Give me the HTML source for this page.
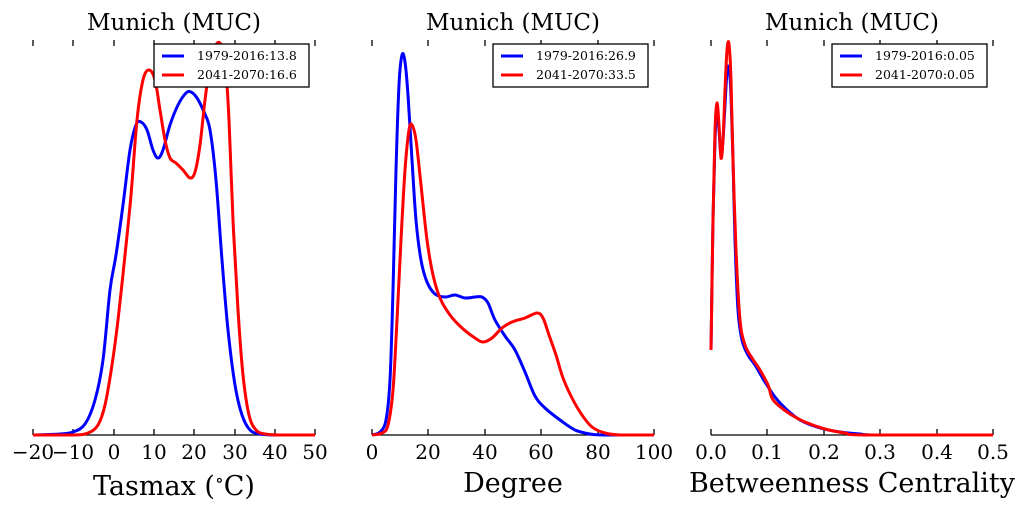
<!DOCTYPE html><html><head><style>body{margin:0;background:#fff}svg{font-family:"DejaVu Serif","Liberation Serif",serif}</style></head><body>
<svg id="s" width="1024" height="512" viewBox="0 0 1024 512" xmlns="http://www.w3.org/2000/svg">
<g font-size="23" text-anchor="middle" fill="#000">
<text x="174" y="30">Munich (MUC)</text><text x="513" y="30">Munich (MUC)</text><text x="852" y="30">Munich (MUC)</text>
</g>
<g stroke="#000" stroke-width="1.3">
<line x1="33" y1="435" x2="315" y2="435"/><line x1="372" y1="435" x2="654" y2="435"/><line x1="711" y1="435" x2="993" y2="435"/>
<path d="M33 40v6M73 40v6M114 40v6M154 40v6M194 40v6M235 40v6M275 40v6M315 40v6M33 435v-6M73 435v-6M114 435v-6M154 435v-6M194 435v-6M235 435v-6M275 435v-6M315 435v-6"/>
<path d="M372 40v6M428 40v6M485 40v6M541 40v6M598 40v6M654 40v6M372 435v-6M428 435v-6M485 435v-6M541 435v-6M598 435v-6M654 435v-6"/>
<path d="M711 40v6M767 40v6M824 40v6M880 40v6M937 40v6M993 40v6M711 435v-6M767 435v-6M824 435v-6M880 435v-6M937 435v-6M993 435v-6"/>
</g>
<g font-size="20" text-anchor="middle">
<text x="33" y="459">−20</text><text x="73" y="459">−10</text><text x="114" y="459">0</text><text x="154" y="459">10</text><text x="194" y="459">20</text><text x="235" y="459">30</text><text x="275" y="459">40</text><text x="315" y="459">50</text>
<text x="372" y="459">0</text><text x="428" y="459">20</text><text x="485" y="459">40</text><text x="541" y="459">60</text><text x="598" y="459">80</text><text x="654" y="459">100</text>
<text x="711" y="459">0.0</text><text x="767" y="459">0.1</text><text x="824" y="459">0.2</text><text x="880" y="459">0.3</text><text x="937" y="459">0.4</text><text x="993" y="459">0.5</text>
</g>
<g font-size="27" text-anchor="middle">
<text x="174" y="495">Tasmax (<tspan font-size="18" dy="-9">∘</tspan><tspan dy="9">C)</tspan></text>
<text x="513" y="492">Degree</text><text x="852" y="492">Betweenness Centrality</text>
</g>
<g id="curves" fill="none" stroke-width="3" stroke-linejoin="round"></g>
<g>
<rect x="154" y="44" width="155" height="43" fill="#fff" stroke="#000" stroke-width="1.3"/>
<rect x="493" y="44" width="155" height="43" fill="#fff" stroke="#000" stroke-width="1.3"/>
<rect x="832" y="44" width="155" height="43" fill="#fff" stroke="#000" stroke-width="1.3"/>
<g stroke-width="3"><path stroke="#00f" d="M162 56h22M501 56h22M840 56h22"/><path stroke="#f00" d="M162 75h22M501 75h22M840 75h22"/></g>
<g font-size="12.5">
<text x="197" y="60">1979-2016:13.8</text><text x="197" y="79">2041-2070:16.6</text>
<text x="536" y="60">1979-2016:26.9</text><text x="536" y="79">2041-2070:33.5</text>
<text x="875" y="60">1979-2016:0.05</text><text x="875" y="79">2041-2070:0.05</text>
</g></g>
</svg>
<script>
var S=[
["#00f",[[33,435],[60,434],[73,432],[85,424],[95,400],[103,360],[110,290],[116,255],[123,205],[130,150],[136,125],[141,122],[147,130],[153,150],[158,158],[163,150],[170,125],[178,105],[186,93],[191,92],[197,98],[204,112],[210,130],[216,180],[222,260],[228,330],[235,385],[242,415],[250,430],[260,434],[275,435],[315,435]]],
["#f00",[[33,435],[73,435],[88,433],[98,425],[105,405],[112,365],[118,320],[125,255],[131,195],[137,120],[143,80],[149,70],[155,80],[160,110],[165,140],[170,158],[176,163],[183,170],[190,178],[195,172],[200,145],[205,100],[210,65],[215,47],[220,43],[225,60],[229,120],[233,220],[238,310],[243,375],[249,415],[256,430],[265,434],[280,435],[315,435]]],
["#00f",[[372,435],[380,432],[386,420],[390,380],[393,290],[396,170],[399,85],[402,55],[405,62],[408,95],[412,160],[416,220],[421,260],[427,282],[435,294],[445,297],[455,295],[465,298],[475,297],[482,297],[488,303],[495,320],[505,336],[515,350],[525,372],[535,396],[545,408],[560,420],[575,430],[590,434],[605,435],[654,435]]],
["#f00",[[372,435],[382,433],[388,425],[393,390],[397,320],[401,240],[405,170],[409,130],[412,125],[416,140],[421,185],[427,240],[433,275],[440,298],[450,315],[462,328],[475,338],[483,342],[492,338],[502,328],[512,322],[525,318],[537,313],[543,318],[549,335],[556,355],[563,378],[572,398],[582,415],[592,427],[605,433],[620,435],[654,435]]],
["#00f",[[711,350],[713,220],[715,140],[717,112],[719,130],[721,155],[723,140],[725,105],[727,72],[729,68],[731,95],[733,160],[735,240],[738,310],[742,340],[748,355],[755,365],[765,382],[775,397],[785,408],[800,420],[820,428],[840,432],[860,434],[880,435],[993,435]]],
["#f00",[[711,350],[713,220],[715,130],[717,103],[719,125],[721,158],[723,140],[725,90],[727,50],[729,44],[731,80],[733,160],[736,250],[740,320],[745,345],[752,358],[760,370],[768,385],[772,398],[778,405],[790,414],[805,422],[825,429],[845,433],[865,435],[993,435]]]
];
var g=document.getElementById("curves");
S.forEach(function(s){var p=s[1],d="M"+p[0][0]+" "+p[0][1];
for(var i=0;i<p.length-1;i++){var a=p[i>0?i-1:0],b=p[i],c=p[i+1],e=p[i+2<p.length?i+2:i+1];
var c1x=b[0]+(c[0]-a[0])/6,c1y=b[1]+(c[1]-a[1])/6,c2x=c[0]-(e[0]-b[0])/6,c2y=c[1]-(e[1]-b[1])/6;
c1y=Math.min(c1y,435);c2y=Math.min(c2y,435);
d+=" C"+c1x+" "+c1y+" "+c2x+" "+c2y+" "+c[0]+" "+c[1];}
var el=document.createElementNS("http://www.w3.org/2000/svg","path");el.setAttribute("d",d);el.setAttribute("stroke",s[0]);g.appendChild(el);});
</script>
</body></html>
